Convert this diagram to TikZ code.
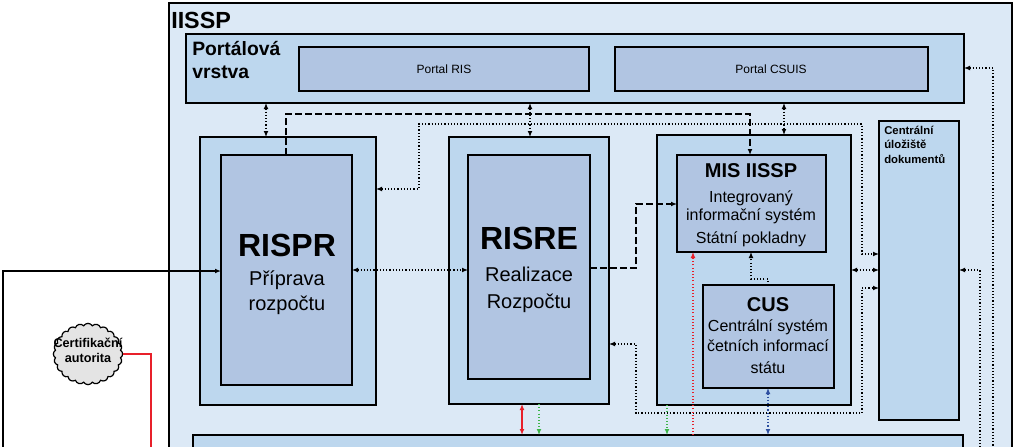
\documentclass[tikz,border=0pt]{standalone}
\usepackage{fontspec}
\setmainfont{Liberation Sans}
\usetikzlibrary{fit,shapes.symbols,arrows.meta}

\definecolor{paleblue}{HTML}{DCE9F6}
\definecolor{midblue}{HTML}{BDD7EE}
\definecolor{boxblue}{HTML}{B1C5E2}
\definecolor{cloudgray}{HTML}{E4E4E4}
\definecolor{linkred}{HTML}{E8202A}
\definecolor{linkgreen}{HTML}{3DB54A}
\definecolor{linkblue}{HTML}{2E4FA0}

\tikzset{
  area/.style={draw=black, line width=1.1pt, inner sep=0pt, outer sep=0pt},
  lbl/.style={inner sep=0pt, anchor=base},
  dotline/.style={line width=0.8pt, dash pattern=on 0.8pt off 1.6pt},
  dashline/.style={line width=1.1pt, dash pattern=on 5pt off 2.5pt},
}

\begin{document}
\begin{tikzpicture}[x=0.75pt, y=-0.75pt, >={Latex[length=4.5pt,width=3.6pt]}]
\useasboundingbox (0,0) rectangle (1023,446);
\clip (0,0) rectangle (1023,446);

% boxes
\node[area, line width=1.6pt, fill=paleblue, fit={(169,3) (1012,480)}] (iissp) {};
\node[area, fill=midblue, fit={(186,34) (964,103)}] (portal) {};
\node[area, fill=boxblue, fit={(299,47) (589,91)}] (pris) {};
\node[area, fill=boxblue, fit={(615,47) (928,91)}] (pcsuis) {};
\node[area, fill=midblue, fit={(200,137) (376,405)}] (rispr) {};
\node[area, fill=boxblue, fit={(221,155) (352,385)}] (risprin) {};
\node[area, fill=midblue, fit={(449,137) (609,404)}] (risre) {};
\node[area, fill=boxblue, fit={(468,155) (590,379)}] (risrein) {};
\node[area, fill=midblue, fit={(657,135) (851,405)}] (misbox) {};
\node[area, fill=boxblue, fit={(677,155) (826,252)}] (misin) {};
\node[area, fill=boxblue, fit={(703,285) (834,388)}] (cus) {};
\node[area, fill=midblue, fit={(879,121) (959,420)}] (uloz) {};
\node[area, fill=midblue, fit={(193,435) (963,490)}] (bottom) {};
\node[cloud, cloud puffs=24, cloud puff arc=120, draw=black, line width=0.9pt,
  fill=cloudgray, minimum width=52pt, minimum height=46pt, inner sep=0pt] (ca) at (88,354) {};

% connectors
\draw[dotline,<->] (portal.south -| 266,0) -- (rispr.north -| 266,0);
\draw[dotline,<->] (portal.south -| 530,0) -- (risre.north -| 530,0);
\draw[dotline,<->] (portal.south -| 784,0) -- (misbox.north -| 784,0);
\draw[dashline,->] (risprin.north -| 286,0) -- (286,114) -| (misin.north -| 750,0);
\draw[dotline,<->] (rispr.east |- 0,189) -- (419,189) |- (862,124) |- (uloz.west |- 0,254);
\draw[dotline,<->] (risprin.east |- 0,270) -- (risrein.west |- 0,270);
\draw[dashline,->] (risrein.east |- 0,268) -- (636,268) |- (misin.west |- 0,204);
\draw[dotline,<->] (risre.east |- 0,344) -- (636,344) |- (862,413) |- (uloz.west |- 0,288);
\draw[dotline,<->] (misbox.east |- 0,270) -- (uloz.west |- 0,270);
\draw[dotline,->] (cus.north -| 768,0) -- (768,279) -| (misin.south -| 751,0);
\draw[dotline,linkred,->] (bottom.north -| 693,0) -- (misin.south -| 693,0);
\draw[dotline,linkblue,<->] (cus.south -| 768,0) -- (bottom.north -| 768,0);
\draw[dotline,linkgreen,->] (misbox.south -| 667,0) -- (bottom.north -| 667,0);
\draw[line width=1pt,linkred,<->] (risre.south -| 522,0) -- (bottom.north -| 522,0);
\draw[dotline,linkgreen,->] (risre.south -| 539,0) -- (bottom.north -| 539,0);
\draw[dotline,<-] (portal.east |- 0,68) -- (993,68) -- (993,460);
\draw[dotline,<-] (uloz.east |- 0,270) -- (980,270) -- (980,460);
\draw[line width=1pt,->] (3,460) |- (risprin.west |- 0,271);
\draw[line width=1pt,linkred] (ca.east) -| (151,460);

% texts
\node[lbl, anchor=base west, font=\bfseries\fontsize{17.5}{17.5}\selectfont] (tiissp) at (171,28) {IISSP};
\node[lbl, anchor=base west, font=\bfseries\fontsize{14.5}{14.5}\selectfont] (tpv1) at (192,55) {Portálová};
\node[lbl, anchor=base west, font=\bfseries\fontsize{14.5}{14.5}\selectfont] (tpv2) at (192,78) {vrstva};
\node[lbl, font=\fontsize{9}{9}\selectfont] (tpris) at (444,73) {Portal RIS};
\node[lbl, font=\fontsize{9}{9}\selectfont] (tpcsuis) at (771,73) {Portal CSUIS};

\node[lbl, font=\bfseries\fontsize{24}{24}\selectfont] (trispr) at (287,256) {RISPR};
\node[lbl, font=\fontsize{15}{15}\selectfont] (trispr1) at (287,285) {Příprava};
\node[lbl, font=\fontsize{15}{15}\selectfont] (trispr2) at (287,310) {rozpočtu};

\node[lbl, font=\bfseries\fontsize{24}{24}\selectfont] (trisre) at (529,249) {RISRE};
\node[lbl, font=\fontsize{15}{15}\selectfont] (trisre1) at (529,281) {Realizace};
\node[lbl, font=\fontsize{15}{15}\selectfont] (trisre2) at (529,308) {Rozpočtu};

\node[lbl, font=\bfseries\fontsize{15}{15}\selectfont] (tmis) at (751,177) {MIS IISSP};
\node[lbl, font=\fontsize{12}{12}\selectfont] (tmis1) at (751,202) {Integrovaný};
\node[lbl, font=\fontsize{12}{12}\selectfont] (tmis2) at (751,220) {informační systém};
\node[lbl, font=\fontsize{12}{12}\selectfont] (tmis3) at (751,243) {Státní pokladny};

\node[lbl, font=\bfseries\fontsize{15}{15}\selectfont] (tcus) at (768,311) {CUS};
\node[lbl, font=\fontsize{12}{12}\selectfont] (tcus1) at (768,331) {Centrální systém};
\node[lbl, font=\fontsize{12}{12}\selectfont] (tcus2) at (768,351) {četních informací};
\node[lbl, font=\fontsize{12}{12}\selectfont] (tcus3) at (768,373) {státu};

\node[lbl, anchor=base west, font=\bfseries\fontsize{8.5}{8.5}\selectfont] (tuloz1) at (884,134) {Centrální};
\node[lbl, anchor=base west, font=\bfseries\fontsize{8.5}{8.5}\selectfont] (tuloz2) at (884,148) {úložiště};
\node[lbl, anchor=base west, font=\bfseries\fontsize{8.5}{8.5}\selectfont] (tuloz3) at (884,163) {dokumentů};

\node[lbl, font=\bfseries\fontsize{9.5}{9.5}\selectfont] (tca1) at (88,347) {Certifikační};
\node[lbl, font=\bfseries\fontsize{9.5}{9.5}\selectfont] (tca2) at (88,362) {autorita};
\end{tikzpicture}
\end{document}
